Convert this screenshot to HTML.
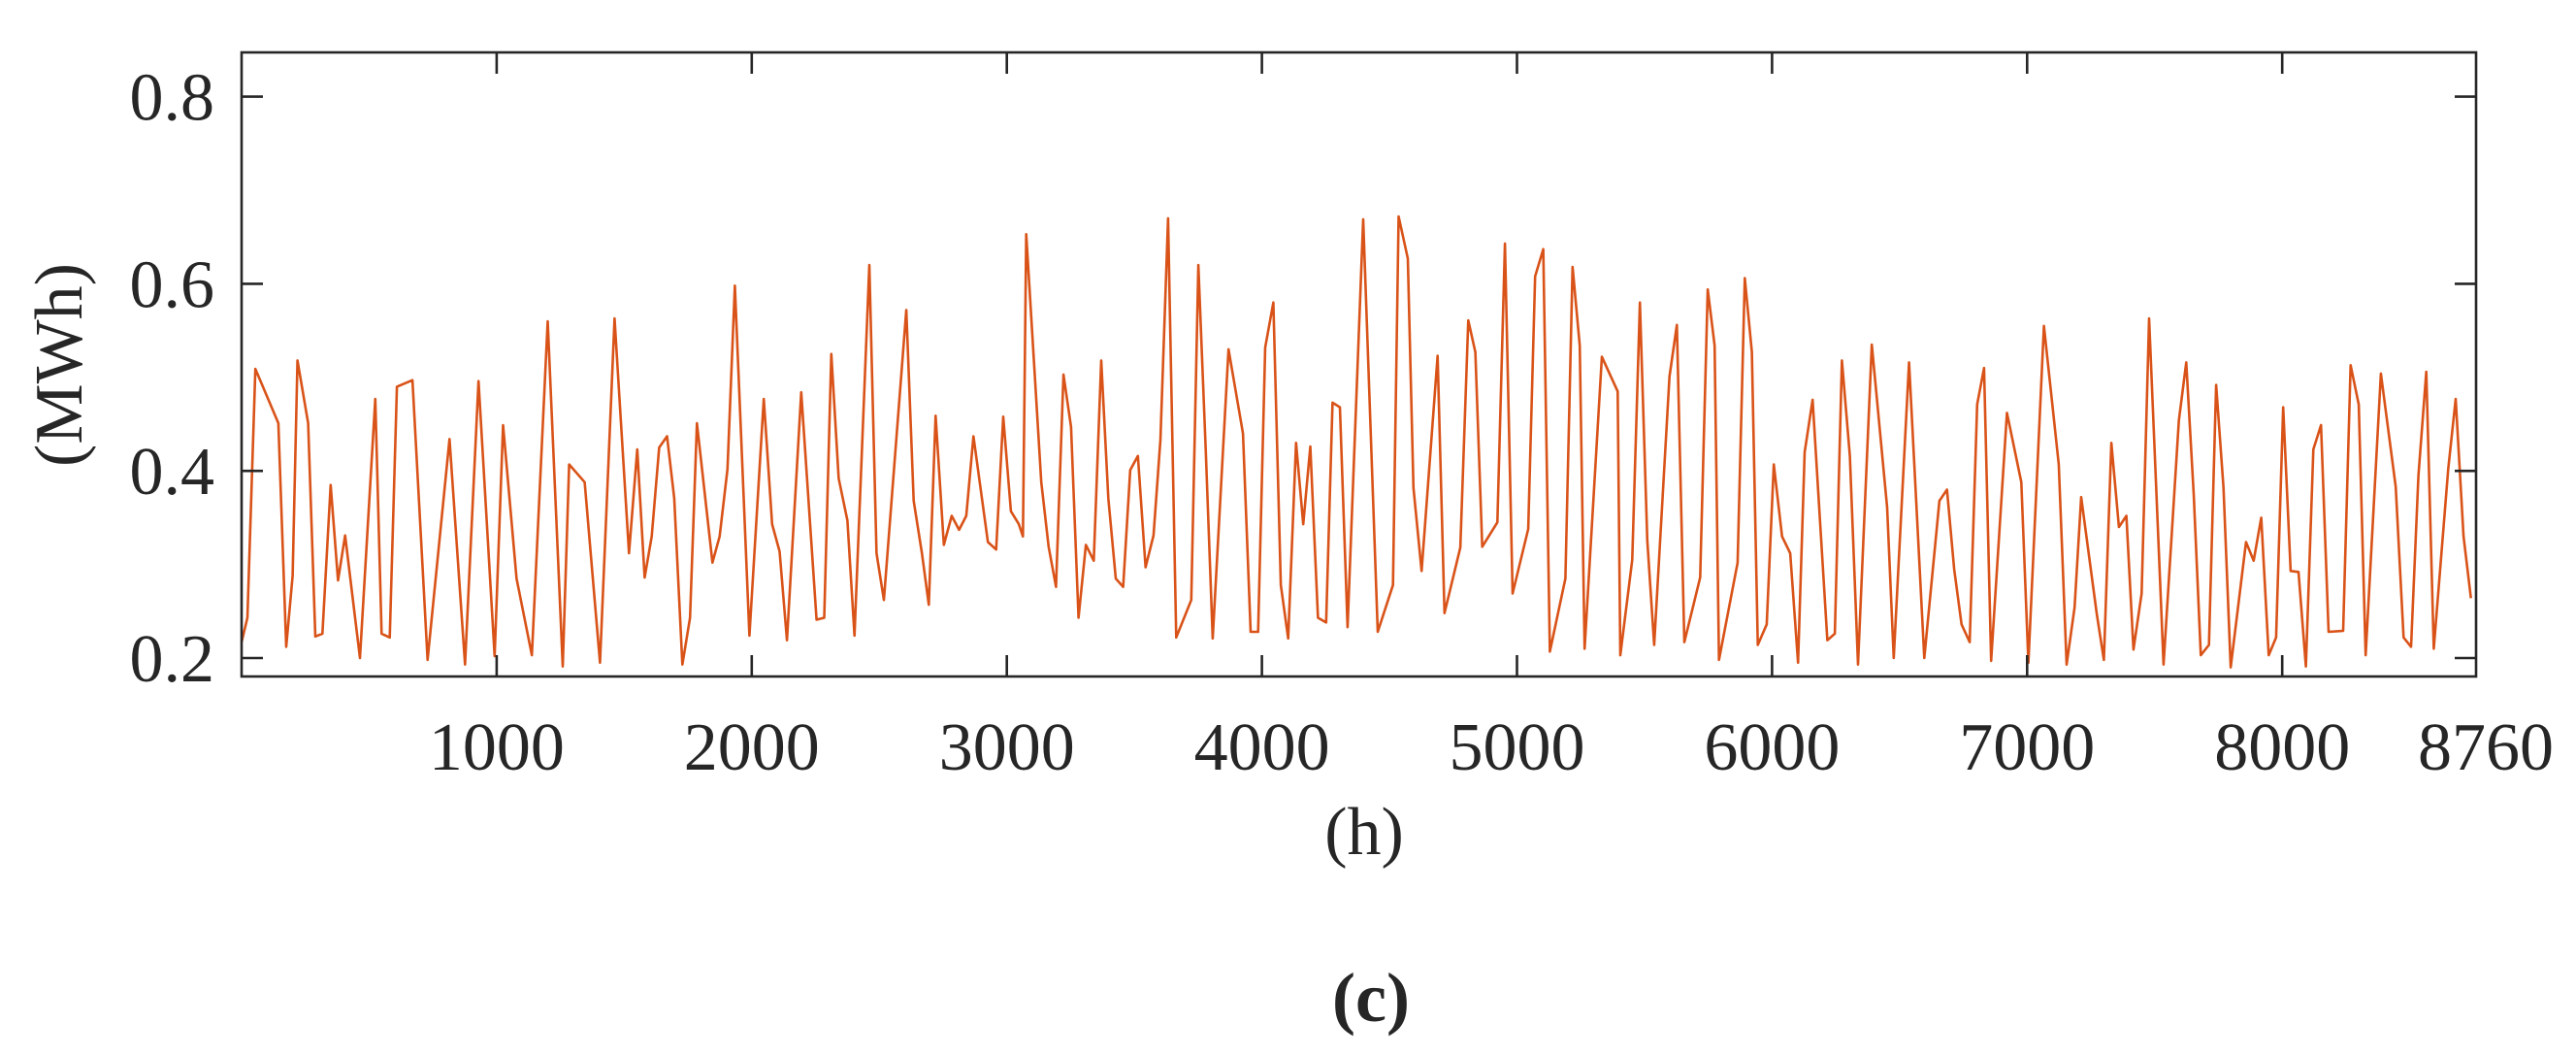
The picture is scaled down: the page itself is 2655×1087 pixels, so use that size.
<!DOCTYPE html>
<html>
<head>
<meta charset="utf-8">
<style>
  html, body { margin:0; padding:0; background:#ffffff; }
  svg { display:block; }
  text { font-family: "Liberation Serif", serif; fill:#262626; }
</style>
</head>
<body>
<svg id="chart" width="2655" height="1087" viewBox="0 0 2655 1087" xmlns="http://www.w3.org/2000/svg">
  <g id="plot"></g>
  <g id="axes"></g>
  <text x="68" y="376" font-size="70" text-anchor="middle" dominant-baseline="middle" transform="rotate(-90 68 376)">(MWh)</text>
  <text x="1406" y="880" font-size="70" text-anchor="middle">(h)</text>
  <text x="1413" y="1052" font-size="72" font-weight="bold" text-anchor="middle">(c)</text>
</svg>
<script>
const hours = [0,23,54,144,175,200,219,261,289,317,349,378,406,464,524,549,581,609,670,729,815,876,929,992,1025,1078,1138,1200,1259,1284,1345,1405,1462,
1519,1551,1580,1608,1637,1668,1696,1728,1758,1785,1846,1874,1905,1934,1991,2047,2080,2109,2138,2194,2254,2284,2312,2341,2375,2403,2461,2489,2518,2606,2635,2667,2694,2721,2753,2784,2813,2841,2869,2926,2958,2986,
3016,3047,3063,3076,3135,3164,3193,3222,3252,3281,3310,3341,3370,3398,3427,3456,3484,3514,3544,3575,3602,3632,3664,3723,3751,3780,3807,3869,3926,3956,3985,4013,4045,4074,4103,4134,4162,4190,4220,4252,4277,4306,4336,4397,4454,
4514,4536,4572,4594,4626,4689,4716,4778,4809,4837,4864,4923,4953,4983,5044,5071,5103,5129,5190,5218,5246,5265,5333,5395,5405,5452,5482,5511,5538,5598,5627,5656,5718,5748,5775,5792,5865,5893,5921,5944,
5979,6007,6039,6071,6102,6128,6159,6188,6217,6246,6274,6305,6337,6391,6451,6477,6537,6597,6656,6686,6714,6743,6775,6804,6831,6859,6921,6977,7005,7066,7124,7155,7186,7212,7273,7301,7330,7360,7389,7417,
7449,7478,7507,7535,7595,7624,7653,7681,7713,7741,7770,7798,7858,7888,7918,7947,7976,8004,8033,8064,8093,8122,8152,8182,8239,8268,8300,8327,8387,8445,8476,8505,8534,8565,8594,8651,8680,8711,8740,8760];
const loadValues = [0.217,0.243,0.509,0.451,0.212,0.288,0.518,0.451,0.223,0.226,0.385,0.283,0.331,0.200,0.477,0.226,0.222,0.490,0.497,0.198,0.434,0.193,0.496,0.202,0.449,0.285,0.203,0.560,0.191,0.407,0.388,0.195,0.563,
0.312,0.423,0.286,0.330,0.425,0.437,0.371,0.193,0.243,0.451,0.302,0.330,0.402,0.598,0.224,0.477,0.343,0.314,0.219,0.484,0.241,0.243,0.525,0.392,0.347,0.224,0.620,0.312,0.262,0.572,0.368,0.312,0.257,0.459,0.321,0.352,0.337,0.352,0.437,0.324,0.316,0.458,
0.357,0.343,0.330,0.653,0.388,0.319,0.276,0.503,0.447,0.243,0.321,0.304,0.518,0.371,0.285,0.276,0.401,0.416,0.297,0.331,0.433,0.670,0.222,0.262,0.620,0.420,0.221,0.530,0.440,0.228,0.228,0.532,0.580,0.278,0.221,0.430,0.343,0.426,0.243,0.238,0.473,0.468,0.233,0.669,
0.228,0.278,0.672,0.627,0.382,0.293,0.523,0.248,0.318,0.561,0.527,0.319,0.345,0.643,0.269,0.338,0.608,0.637,0.207,0.285,0.618,0.534,0.210,0.522,0.485,0.203,0.305,0.580,0.326,0.214,0.501,0.556,0.217,0.286,0.594,0.534,0.198,0.302,0.606,0.527,
0.214,0.236,0.407,0.330,0.312,0.195,0.420,0.476,0.347,0.219,0.226,0.518,0.416,0.193,0.535,0.361,0.200,0.516,0.200,0.368,0.380,0.295,0.236,0.217,0.471,0.510,0.197,0.462,0.388,0.195,0.555,0.407,0.193,0.254,0.372,0.247,0.198,0.430,0.340,0.352,
0.209,0.269,0.563,0.375,0.193,0.454,0.516,0.375,0.203,0.214,0.492,0.382,0.190,0.324,0.304,0.350,0.203,0.222,0.468,0.293,0.292,0.191,0.423,0.449,0.228,0.229,0.513,0.471,0.203,0.504,0.383,0.222,0.212,0.395,0.506,0.210,0.402,0.477,0.330,0.264];
const xTicks = [1000,2000,3000,4000,5000,6000,7000,8000];
const xTickLabels = ["1000","2000","3000","4000","5000","6000","7000","8000"];
const yTicks = [0.2,0.4,0.6,0.8];
const yTickLabels = ["0.2","0.4","0.6","0.8"];

const NS = "http://www.w3.org/2000/svg";
const L = 249, R = 2552, T = 54, B = 697;
const X_MIN = 0, X_MAX = 8760;
function xScale(h){ return L + (h - X_MIN) / (X_MAX - X_MIN) * (R - L); }
function yScale(v){ return 678 - (v - 0.2) * 964; }

const plot = document.getElementById('plot');
const axes = document.getElementById('axes');
function mk(tag, attrs){ const e = document.createElementNS(NS, tag); for (const k in attrs) e.setAttribute(k, attrs[k]); return e; }

// series
let d = '';
for (let i = 0; i < hours.length; i++) {
  d += (i ? 'L' : 'M') + xScale(hours[i]).toFixed(1) + ' ' + yScale(loadValues[i]).toFixed(1);
}
const line = mk('path', {d: d, fill: 'none', stroke: '#D95319', 'stroke-width': 2.6, 'stroke-linejoin': 'round'});


plot.appendChild(line);

// frame
const frame = mk('rect', {x: L, y: T, width: R - L, height: B - T, fill: 'none', stroke: '#262626', 'stroke-width': 2.6});


axes.appendChild(frame);

// x ticks
xTicks.forEach((t, i) => {
  const x = xScale(t);
  const t1 = mk('line', {x1: x, y1: B, x2: x, y2: B - 22, stroke: '#262626', 'stroke-width': 2.6});
  
  
  axes.appendChild(t1);
  const t2 = mk('line', {x1: x, y1: T, x2: x, y2: T + 22, stroke: '#262626', 'stroke-width': 2.6});
  
  
  axes.appendChild(t2);
  const lab = mk('text', {x: x, y: 793, 'font-size': 70, 'text-anchor': 'middle'});
  lab.textContent = xTickLabels[i];
  
  
  axes.appendChild(lab);
});
const endLab = mk('text', {x: xScale(X_MAX) + 10, y: 793, 'font-size': 70, 'text-anchor': 'middle'});
endLab.textContent = String(X_MAX);


axes.appendChild(endLab);

// y ticks
yTicks.forEach((t, i) => {
  const y = yScale(t);
  const t1 = mk('line', {x1: L, y1: y, x2: L + 22, y2: y, stroke: '#262626', 'stroke-width': 2.6});
  
  
  axes.appendChild(t1);
  const t2 = mk('line', {x1: R, y1: y, x2: R - 22, y2: y, stroke: '#262626', 'stroke-width': 2.6});
  
  
  axes.appendChild(t2);
  const lab = mk('text', {x: 221, y: y + 24, 'font-size': 70, 'text-anchor': 'end'});
  lab.textContent = yTickLabels[i];
  
  
  axes.appendChild(lab);
});
</script>
</body>
</html>
